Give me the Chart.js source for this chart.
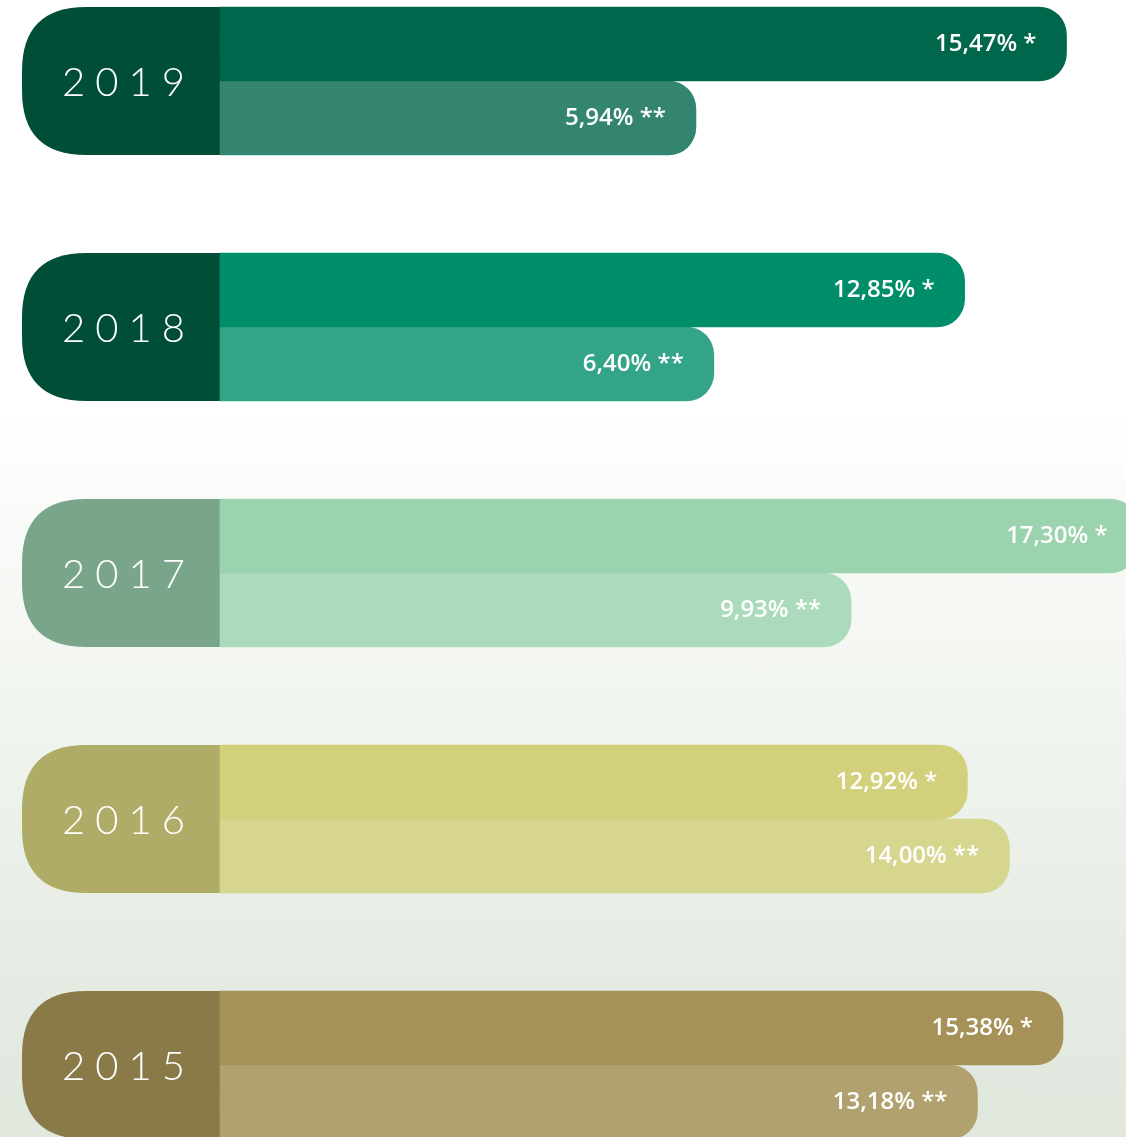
<!DOCTYPE html>
<html>
<head>
<meta charset="utf-8">
<script src="https://cdn.jsdelivr.net/npm/chart.js@4.4.1/dist/chart.umd.min.js"></script>
<style>
  html, body { margin: 0; padding: 0; width: 1126px; height: 1137px; overflow: hidden; }
  body {
    background: linear-gradient(to bottom, #ffffff 0%, #ffffff 36%, #f8faf7 48%, #eff3ed 66%, #e6ece4 84%, #e0e7dd 100%);
  }
  canvas { display: block; }
</style>
</head>
<body>
<canvas id="c" width="1126" height="1137"></canvas>
<script>
// ---- data ----
const years   = ['2019', '2018', '2017', '2016', '2015'];
const seriesA = [15.47, 12.85, 17.30, 12.92, 15.38];   // marked "*"
const seriesB = [5.94, 6.40, 9.93, 14.00, 13.18];      // marked "**"
const markerA = '*';
const markerB = '**';
const axisMin = -6.3;
const axisMax = 17.0;

// ---- styles ----
const boxColors = ['#004d38', '#004d38', '#79a68a', '#aeac66', '#8a7a48'];
const colorsA   = ['#00674d', '#008d69', '#9bd3ae', '#d2d07a', '#a69258'];
const colorsB   = ['#348570', '#34a488', '#acdabd', '#d7d68f', '#b0a16f'];
const BAR_H = 74;

function fmt(v) { return v.toFixed(2).replace('.', ',') + '%'; }

const yearBoxes = {
  id: 'yearBoxes',
  beforeDatasetsDraw(chart) {
    const ctx = chart.ctx;
    const ys = chart.scales.y;
    const left = 22, right = chart.chartArea.left;
    const r = 64;
    years.forEach((yr, i) => {
      const cy = ys.getPixelForValue(i);
      const top = cy - BAR_H, bot = cy + BAR_H;
      ctx.save();
      ctx.fillStyle = boxColors[i];
      ctx.beginPath();
      ctx.moveTo(right, top);
      ctx.lineTo(left + r, top);
      ctx.quadraticCurveTo(left, top, left, top + r);
      ctx.lineTo(left, bot - r);
      ctx.quadraticCurveTo(left, bot, left + r, bot);
      ctx.lineTo(right, bot);
      ctx.closePath();
      ctx.fill();
      ctx.fillStyle = '#ffffff';
      ctx.font = '300 40px Lato, "DejaVu Sans", sans-serif';
      const sp = 10;
      if ('letterSpacing' in ctx) ctx.letterSpacing = sp + 'px';
      const w = ctx.measureText(yr).width - ('letterSpacing' in ctx ? sp : 0);
      ctx.textAlign = 'left';
      ctx.textBaseline = 'middle';
      ctx.fillText(yr, 123.5 - w / 2, cy + 2);
      ctx.restore();
    });
  }
};

const valueLabels = {
  id: 'valueLabels',
  afterDatasetsDraw(chart) {
    const ctx = chart.ctx;
    ctx.save();
    ctx.fillStyle = '#ffffff';
    ctx.font = '600 24px "Open Sans", "Noto Sans", sans-serif';
    ctx.textAlign = 'right';
    ctx.textBaseline = 'middle';
    chart.data.datasets.forEach((ds, di) => {
      const meta = chart.getDatasetMeta(di);
      meta.data.forEach((bar, i) => {
        const txt = fmt(ds.data[i]) + ' ' + ds.marker;
        ctx.fillText(txt, bar.x - 30, bar.y);
      });
    });
    ctx.restore();
  }
};

new Chart(document.getElementById('c'), {
  type: 'bar',
  data: {
    labels: years,
    datasets: [
      { label: markerA, marker: markerA, data: seriesA, backgroundColor: colorsA,
        base: axisMin, clip: false, borderRadius: 28, borderSkipped: 'start', barThickness: BAR_H },
      { label: markerB, marker: markerB, data: seriesB, backgroundColor: colorsB,
        base: axisMin, clip: false, borderRadius: 28, borderSkipped: 'start', barThickness: BAR_H }
    ]
  },
  options: {
    indexAxis: 'y',
    responsive: false,
    animation: false,
    layout: { padding: { left: 220, right: 0, top: 81, bottom: 72 } },
    scales: {
      x: { type: 'linear', min: axisMin, max: axisMax, display: false },
      y: { type: 'category', offset: false, display: false }
    },
    plugins: { legend: { display: false }, tooltip: { enabled: false } }
  },
  plugins: [yearBoxes, valueLabels]
});
</script>
</body>
</html>
